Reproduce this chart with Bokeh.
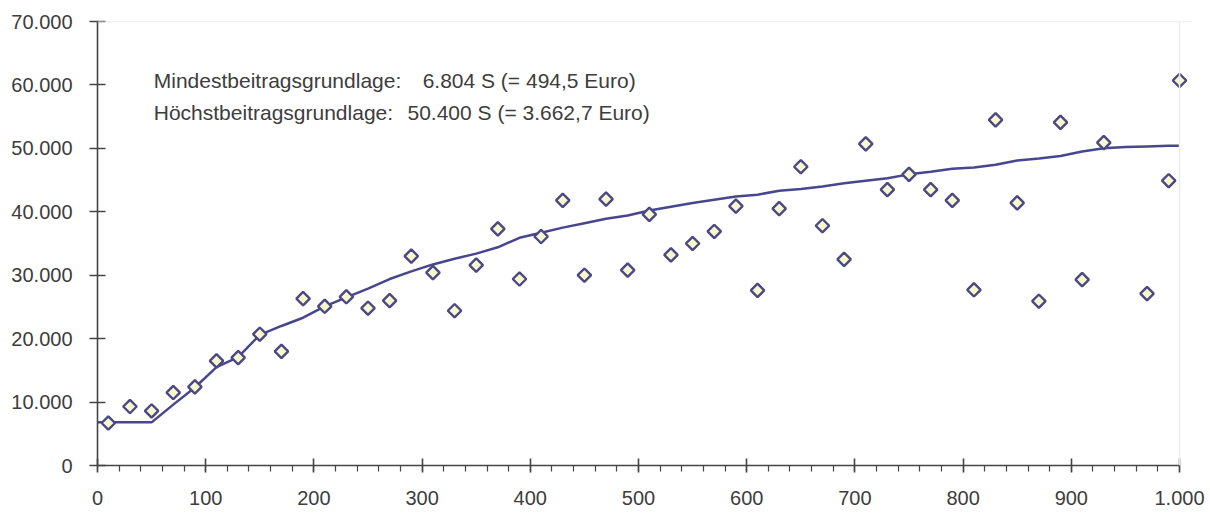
from bokeh.plotting import figure
from bokeh.models import Range1d, SingleIntervalTicker, CustomJSTickFormatter, Label, Span
from bokeh.embed import file_html
from bokeh.resources import INLINE

# ---- data ----
rank = [10, 30, 50, 70, 90, 110, 130, 150, 170, 190, 210, 230, 250, 270, 290,
        310, 330, 350, 370, 390, 410, 430, 450, 470, 490, 510, 530, 550, 570, 590,
        610, 630, 650, 670, 690, 710, 730, 750, 770, 790, 810, 830, 850, 870, 890,
        910, 930, 970, 990, 1000]
income = [6700, 9300, 8600, 11500, 12400, 16500, 17000, 20700, 18000, 26300,
          25100, 26600, 24800, 26000, 33000, 30400, 24400, 31600, 37300, 29400,
          36100, 41800, 30000, 42000, 30800, 39600, 33200, 35000, 36900, 40900,
          27600, 40500, 47100, 37800, 32500, 50700, 43500, 45900, 43500, 41800,
          27700, 54500, 41400, 25900, 54100, 29300, 50900, 27100, 44900, 60700]

trend_x = [0, 50, 70, 90, 110, 130, 150, 170, 190, 210, 230, 250, 270, 290, 310,
           330, 350, 370, 390, 410, 430, 450, 470, 490, 510, 530, 550, 570, 590,
           610, 630, 650, 670, 690, 710, 730, 750, 770, 790, 810, 830, 850, 870,
           890, 910, 930, 950, 970, 990, 1000]
trend_y = [6804, 6804, 9600, 12300, 15500, 17100, 20600, 22000, 23300, 25100,
           26500, 27900, 29400, 30600, 31700, 32600, 33400, 34400, 35900, 36700,
           37500, 38200, 38900, 39400, 40200, 40800, 41400, 41900, 42400, 42700,
           43300, 43600, 44000, 44500, 44900, 45300, 45900, 46300, 46800, 47000,
           47400, 48100, 48400, 48800, 49500, 50000, 50200, 50300, 50400, 50400]

note_labels = ["Mindestbeitragsgrundlage:", "Höchstbeitragsgrundlage:"]
note_values = ["6.804 S (= 494,5 Euro)", "50.400 S (= 3.662,7 Euro)"]

FONT = "Liberation Sans"
DARK = "#4b4884"
TXT = "#3d3d3d"

p = figure(width=1210, height=513, output_backend="svg", toolbar_location=None,
           x_range=Range1d(0, 1012), y_range=Range1d(0, 70000),
           min_border_left=97, min_border_right=18, min_border_top=21,
           min_border_bottom=48)

p.background_fill_color = "white"
p.border_fill_color = "white"
p.outline_line_color = None
p.xgrid.visible = False
p.ygrid.visible = False

fmt = CustomJSTickFormatter(code="""
    return Math.round(tick).toString().replace(/\\B(?=(\\d{3})+(?!\\d))/g, ".");
""")

# faint frame lines (top and right)
p.add_layout(Span(location=70000, dimension="width", line_color="#e4e4e4", line_width=1.5))
p.add_layout(Span(location=1000, dimension="height", line_color="#ececec", line_width=1.5))

xa = p.xaxis[0]
xa.ticker = SingleIntervalTicker(interval=100, num_minor_ticks=5)
xa.formatter = fmt
xa.bounds = (0, 1000)
xa.axis_line_color = "#454545"
xa.axis_line_width = 1.6
xa.major_tick_line_color = "#454545"
xa.major_tick_line_width = 1.6
xa.major_tick_in = 7
xa.major_tick_out = 7
xa.minor_tick_line_color = "#454545"
xa.minor_tick_line_width = 1.2
xa.minor_tick_in = 0
xa.minor_tick_out = 6
xa.major_label_text_font = FONT
xa.major_label_text_font_size = "20px"
xa.major_label_text_color = TXT
xa.major_label_standoff = 18

ya = p.yaxis[0]
ya.ticker = SingleIntervalTicker(interval=10000, num_minor_ticks=0)
ya.formatter = fmt
ya.axis_line_color = "#454545"
ya.axis_line_width = 1.6
ya.major_tick_line_color = "#454545"
ya.major_tick_line_width = 1.6
ya.major_tick_in = 8
ya.major_tick_out = 8
ya.minor_tick_line_color = None
ya.major_label_text_font = FONT
ya.major_label_text_font_size = "20px"
ya.major_label_text_color = TXT
ya.major_label_standoff = 17

p.line(trend_x, trend_y, line_color="#47468f", line_width=2.5)
p.scatter(rank, income, marker="square", angle=45, angle_units="deg", size=9.5,
          fill_color="#f8f8cf", line_color=DARK, line_width=2.4)

for i, (lab, val) in enumerate(zip(note_labels, note_values)):
    yb = 60700 - i * 5050
    p.add_layout(Label(x=52, y=yb, text=lab, text_font=FONT, text_font_size="21px",
                       text_color=TXT, text_baseline="alphabetic"))
    p.add_layout(Label(x=300.5 if i == 0 else 286.5, y=yb, text=val, text_font=FONT,
                       text_font_size="21px", text_color=TXT, text_baseline="alphabetic"))

open("out.html", "w").write(file_html(p, INLINE))
